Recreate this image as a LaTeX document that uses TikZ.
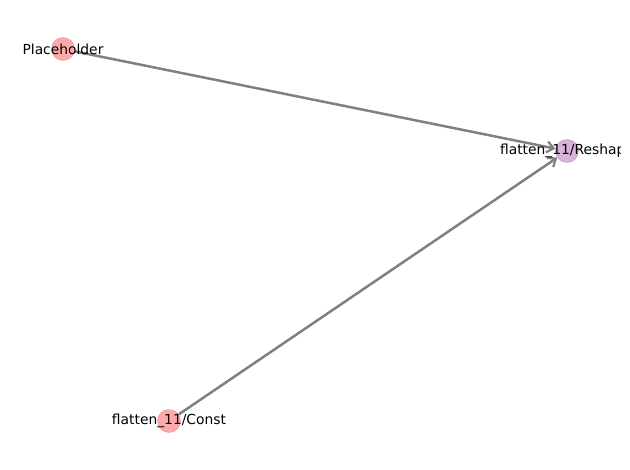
\documentclass[tikz,border=0pt]{standalone}
\usepackage{fontspec}
\setmainfont{DejaVu Sans}
\usetikzlibrary{arrows.meta}
\definecolor{srcfill}{RGB}{255,170,170}
\definecolor{srcdraw}{RGB}{245,150,150}
\definecolor{opfill}{RGB}{216,178,216}
\definecolor{opdraw}{RGB}{196,150,196}
\definecolor{edgegray}{RGB}{128,128,128}
\begin{document}
\begin{tikzpicture}
    [x=0.72bp,y=-0.72bp,
     src/.style={shape=circle,fill=srcfill,draw=srcdraw,minimum size=16.5bp,inner sep=0pt},
     op/.style={shape=circle,fill=opfill,draw=opdraw,minimum size=16.5bp,inner sep=0pt},
     flow/.style={-{Straight Barb[length=5pt,width=8pt,line width=1.6pt]},draw=edgegray,line width=1.8pt},
     lbl/.style={font=\fontsize{10}{12}\selectfont,inner sep=0pt}]
    \useasboundingbox (0,0) rectangle (630,470);
    \clip (0,0) rectangle (620,470);
    \node [op] (R) at (567,151) {};
    \node [src] (P) at (63,49) {}
      edge [flow] (R);
    \node [src] (C) at (169,421) {}
      edge [flow] (R);
    \node [lbl] at (P) {Placeholder};
    \node [lbl] at (R) {flatten\_11/Reshape};
    \node [lbl] at (C) {flatten\_11/Const};
  \end{tikzpicture}
\end{document}
